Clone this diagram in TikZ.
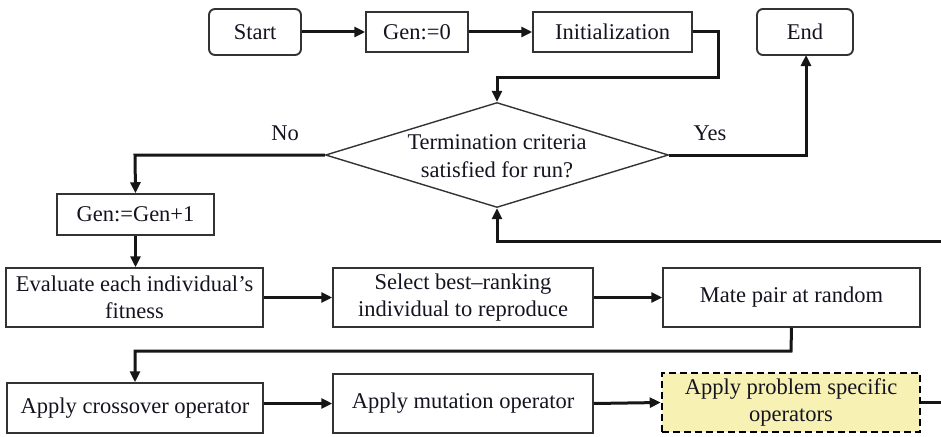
\documentclass[tikz,border=0pt]{standalone}
\usepackage{fontspec}
\setmainfont{Liberation Serif}
\usetikzlibrary{shapes.geometric,arrows.meta}
\definecolor{boxline}{HTML}{333333}
\definecolor{wire}{HTML}{161616}
\definecolor{ink}{HTML}{141420}
\definecolor{paleyellow}{HTML}{F8F1B4}
\begin{document}
\begin{tikzpicture}[x=1pt,y=-1pt,
  font=\rmfamily\fontsize{22.5}{27.5}\selectfont, text=ink,
  procbox/.style={draw=boxline, line width=1.5pt, rectangle, inner sep=0pt,
    align=center},
  termbox/.style={draw=boxline, line width=1.9pt, rectangle, rounded corners=6pt,
    inner sep=0pt},
  extrabox/.style={procbox, fill=paleyellow, draw=black, line width=2.6pt,
    dash pattern=on 7pt off 4pt},
  decide/.style={draw=boxline, line width=1.4pt, diamond, inner sep=0pt,
    aspect=3.27, minimum width=343pt, minimum height=105pt},
  flow/.style={draw=wire, line width=3pt,
    -{Triangle[length=11pt,width=10pt]}},
  wireonly/.style={draw=wire, line width=3pt}]
\useasboundingbox (0,0) rectangle (941,436);

% top row
\node[termbox, minimum width=92pt, minimum height=46pt] (start) at (255,32) {Start};
\node[procbox, minimum width=102pt, minimum height=40pt] (gen0) at (417,32) {Gen:=0};
\node[procbox, minimum width=159pt, minimum height=40pt] (init) at (612.5,32) {Initialization};
\node[termbox, minimum width=96pt, minimum height=46pt] (end) at (805,32) {End};

% termination test
\node[decide] (dec) at (497,155) {};
\node[align=center] (dectext) at (497,156) {Termination criteria\\satisfied for run?};
\node (nolab) at (285,133) {No};
\node (yeslab) at (710,133) {Yes};

% generation step
\node[procbox, minimum width=157pt, minimum height=41pt] (gen1) at (135.5,214.5) {Gen:=Gen+1};

% middle row
\node[procbox, minimum width=257pt, minimum height=59pt] (eval) at (134.5,297.5) {Evaluate each individual’s\\fitness};
\node[procbox, minimum width=260pt, minimum height=59pt] (select) at (463,297.5) {Select best–ranking\\individual to reproduce};
\node[procbox, minimum width=257pt, minimum height=59pt] (mate) at (791.5,297.5) {Mate pair at random};

% bottom row
\node[procbox, minimum width=256pt, minimum height=50pt] (cross) at (135,408) {Apply crossover operator};
\node[procbox, minimum width=260pt, minimum height=59pt] (mut) at (463,403.5) {Apply mutation operator};
\node[extrabox, minimum width=258pt, minimum height=59pt] (prob) at (791,402.5) {Apply problem specific\\operators};

% loop ends at the right border
\coordinate (loopout) at (941,402.5);
\coordinate (loopin) at (941,241);

% connectors
\draw[flow] (start) -- (gen0);
\draw[flow] (gen0) -- (init);
\draw[flow] (init.east) -- (718,32) -- (718,77) -- (497,77) -- (dec.north);
\draw[flow] (dec.west) -- (135,155) -- (gen1.north);
\draw[flow] (dec.east) -- (806,155) -- (806,55);
\draw[flow] (gen1.south) -- (eval.north -| gen1.south);
\draw[flow] (eval.east) -- (select.west);
\draw[flow] (select.east) -- (mate.west);
\draw[flow] (mate.south) -- (791,351) -- (135,351) -- (cross.north);
\draw[flow] (cross.east |- mut.west) -- (mut.west);
\draw[flow] (mut.east) -- (prob.west);
\draw[wireonly] (prob.east) -- (loopout);
\draw[flow] (loopin) -- (497,241) -- (dec.south);
\end{tikzpicture}
\end{document}
